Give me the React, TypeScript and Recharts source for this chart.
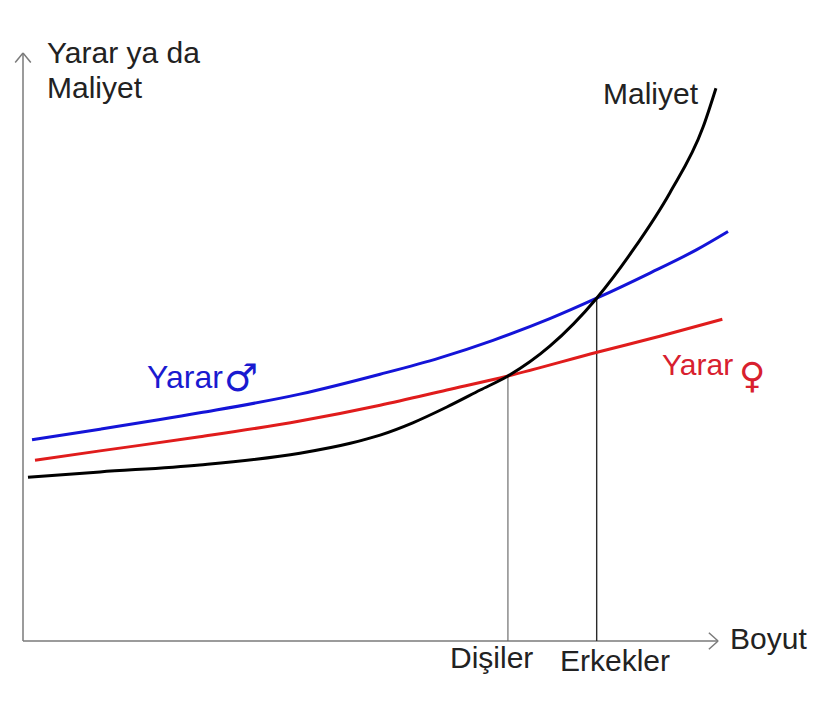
import { LineChart, Line, XAxis, YAxis, ReferenceLine } from 'recharts'

// curves, x = Boyut (0-100), y = Yarar / Maliyet (0-100)
const maliyet = [
  { x: 0.7, y: 28.0 }, { x: 10.85, y: 28.9 }, { x: 24.9, y: 30.1 }, { x: 39.0, y: 32.1 },
  { x: 46.1, y: 33.8 }, { x: 50.3, y: 35.2 }, { x: 54.9, y: 37.3 }, { x: 59.7, y: 40.0 },
  { x: 64.4, y: 42.9 }, { x: 68.3, y: 45.3 }, { x: 74.2, y: 50.4 }, { x: 80.8, y: 58.6 },
  { x: 85.9, y: 66.8 }, { x: 91.1, y: 76.6 }, { x: 95.8, y: 87.9 }, { x: 97.6, y: 94.5 }
]
const yararErkek = [
  { x: 1.27, y: 34.4 }, { x: 10.85, y: 36.2 }, { x: 24.9, y: 39.0 }, { x: 39.0, y: 42.2 },
  { x: 50.3, y: 45.6 }, { x: 58.7, y: 48.4 }, { x: 66.2, y: 51.4 }, { x: 74.2, y: 55.1 },
  { x: 80.8, y: 58.6 }, { x: 88.3, y: 62.9 }, { x: 94.9, y: 66.9 }, { x: 99.3, y: 70.0 }
]
const yararDisi = [
  { x: 1.69, y: 30.9 }, { x: 10.85, y: 32.5 }, { x: 24.9, y: 34.9 }, { x: 39.0, y: 37.6 },
  { x: 50.3, y: 40.3 }, { x: 59.7, y: 42.9 }, { x: 68.3, y: 45.3 }, { x: 81.0, y: 49.4 },
  { x: 89.7, y: 52.1 }, { x: 98.5, y: 55.0 }
]
// optimum sizes (where benefit meets cost)
const disiX = 68.3
const disiY = 45.3
const erkekX = 80.8
const erkekY = 58.6

const yTitle = ['Yarar ya da', 'Maliyet']
const xTitle = 'Boyut'
const maliyetLabel = 'Maliyet'
const yararLabel = 'Yarar'
const disiLabel = 'Dişiler'
const erkekLabel = 'Erkekler'

const font = '"Liberation Sans", Arial, sans-serif'
const axisColor = '#7a7a7a'

export default function App() {
  return (
    <div style={{ position: 'relative', width: 817, height: 715 }}>
      <LineChart width={800} height={700} margin={{ left: 15, top: 48, right: 75, bottom: 67 }}>
        <XAxis type="number" dataKey="x" domain={[0, 100]} hide allowDataOverflow />
        <YAxis type="number" dataKey="y" domain={[0, 100]} hide allowDataOverflow />

        {/* axes with arrow heads */}
        <ReferenceLine segment={[{ x: 0, y: 0 }, { x: 0, y: 100.5 }]} stroke={axisColor} strokeWidth={1.5} ifOverflow="visible" />
        <ReferenceLine segment={[{ x: 0, y: 100.5 }, { x: -1.1, y: 98.9 }]} stroke={axisColor} strokeWidth={1.5} ifOverflow="visible" />
        <ReferenceLine segment={[{ x: 0, y: 100.5 }, { x: 1.1, y: 98.9 }]} stroke={axisColor} strokeWidth={1.5} ifOverflow="visible" />
        <ReferenceLine segment={[{ x: 0, y: 0 }, { x: 97.9, y: 0 }]} stroke={axisColor} strokeWidth={1.5} ifOverflow="visible" />
        <ReferenceLine segment={[{ x: 97.9, y: 0 }, { x: 96.6, y: 1.4 }]} stroke={axisColor} strokeWidth={1.5} ifOverflow="visible" />
        <ReferenceLine segment={[{ x: 97.9, y: 0 }, { x: 96.6, y: -1.4 }]} stroke={axisColor} strokeWidth={1.5} ifOverflow="visible" />

        {/* drop lines to the size axis */}
        <ReferenceLine segment={[{ x: disiX, y: 0 }, { x: disiX, y: disiY }]} stroke="#6e6e6e" strokeWidth={1.2} ifOverflow="visible" />
        <ReferenceLine segment={[{ x: erkekX, y: 0 }, { x: erkekX, y: erkekY }]} stroke="#2a2a2a" strokeWidth={1.4} ifOverflow="visible" />

        <Line data={yararErkek} dataKey="y" type="monotone" stroke="#1414d8" strokeWidth={3} dot={false} isAnimationActive={false} />
        <Line data={yararDisi} dataKey="y" type="monotone" stroke="#e01c1c" strokeWidth={3} dot={false} isAnimationActive={false} />
        <Line data={maliyet} dataKey="y" type="monotone" stroke="#000000" strokeWidth={3} dot={false} isAnimationActive={false} />
      </LineChart>

      <svg width={817} height={715} style={{ position: 'absolute', left: 0, top: 0, pointerEvents: 'none' }}>
        <g fontFamily={font} fontSize={30} fill="#222">
          <text x={39} y={55}>{yTitle[0]}</text>
          <text x={39} y={90}>{yTitle[1]}</text>
          <text x={595} y={96}>{maliyetLabel}</text>
          <text x={722} y={641}>{xTitle}</text>
          <text x={442} y={660}>{disiLabel}</text>
          <text x={552} y={663}>{erkekLabel}</text>
        </g>
        <text x={139} y={380} fontFamily={font} fontSize={32} fill="#1a1ad0">{yararLabel}</text>
        <text x={216} y={383} fontFamily="DejaVu Sans" fontSize={38} fontWeight="bold" fill="#1a1ad0">♂</text>
        <text x={654} y={367} fontFamily={font} fontSize={30} fill="#d8202e">{yararLabel}</text>
        <text x={731} y={380} fontFamily="DejaVu Sans" fontSize={36} fontWeight="bold" fill="#d8202e">♀</text>
      </svg>
    </div>
  )
}
